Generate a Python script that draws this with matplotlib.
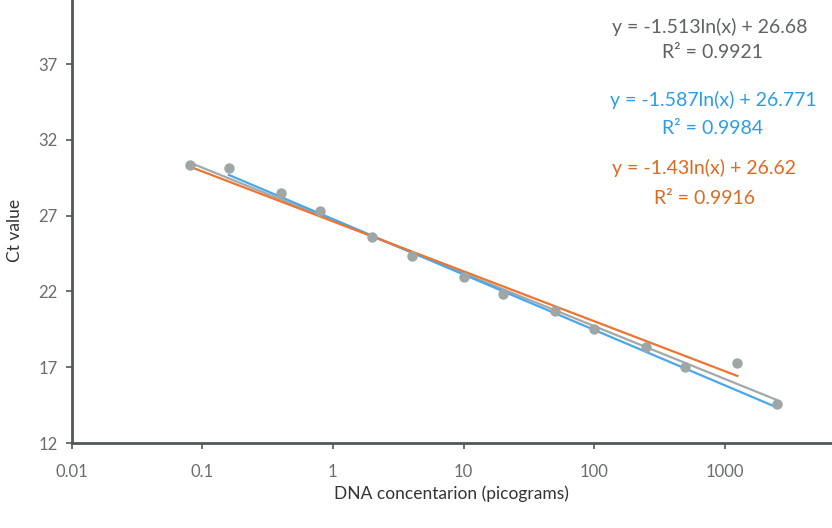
import numpy as np
import matplotlib
matplotlib.use("Agg")
import matplotlib.pyplot as plt
from matplotlib.ticker import FixedLocator, FixedFormatter

plt.rcParams['font.family'] = ['Lato', 'DejaVu Sans']

# DNA dilution series (pg) and measured Ct
dna_pg = [0.08, 0.16, 0.4, 0.8, 2, 4, 10, 20, 50, 100, 250, 500, 1250, 2500]
ct = [30.34, 30.12, 28.51, 27.32, 25.57, 24.34, 22.93, 21.83, 20.73,
      19.52, 18.35, 17.03, 17.26, 14.57]

# log trendlines: slope, intercept, R2, x range, colour
fit_names = ["grey", "blue", "orange"]
fit_slope = [-1.513, -1.587, -1.43]
fit_icpt = [26.68, 26.771, 26.62]
fit_r2 = ["0.9921", "0.9984", "0.9916"]
fit_xmin = [0.08, 0.16, 0.08]
fit_xmax = [2500, 2500, 1250]
fit_eq = ["y = -1.513ln(x) + 26.68", "y = -1.587ln(x) + 26.771", "y = -1.43ln(x) + 26.62"]

x_ticks = [0.01, 0.1, 1, 10, 100, 1000]
x_labels = ["0.01", "0.1", "1", "10", "100", "1000"]
y_ticks = [12, 17, 22, 27, 32, 37]

line_col = {"grey": "#a3a8a8", "blue": "#4aa7ea", "orange": "#ec7532"}
text_col = {"grey": "#5f6262", "blue": "#2b9de8", "orange": "#e0691f"}
axis_col = "#505859"
tick_col = "#6a6d6d"

fig = plt.figure(figsize=(8.32, 5.28), dpi=100)
ax = fig.add_axes([71.7 / 832, 1 - 443 / 528, 1 - 71.7 / 832, 443 / 528])
ax.set_xscale("log")
ax.set_xlim(0.01, 10 ** (-2 + (832 - 71.7) / 130.6))
ax.set_ylim(12, 12 + 443 / 15.16)

for name, m, b, lo, hi in zip(fit_names, fit_slope, fit_icpt, fit_xmin, fit_xmax):
    xs = np.geomspace(lo, hi, 50)
    ax.plot(xs, m * np.log(xs) + b, color=line_col[name], lw=1.6, zorder=2)

ax.plot(dna_pg, ct, "o", color="#9ea6a6", ms=7.5, mec="none", zorder=3)

for s in ["top", "right"]:
    ax.spines[s].set_visible(False)
for s in ["left", "bottom"]:
    ax.spines[s].set_color(axis_col)
    ax.spines[s].set_linewidth(2)

ax.xaxis.set_major_locator(FixedLocator(x_ticks))
ax.xaxis.set_major_formatter(FixedFormatter(x_labels))
ax.xaxis.set_minor_locator(FixedLocator([]))
ax.set_yticks(y_ticks)
ax.tick_params(axis="both", direction="out", length=4, width=1.2, color=axis_col,
               labelcolor=tick_col, labelsize=12)
ax.tick_params(axis="x", pad=11)
ax.tick_params(axis="y", pad=6)

ax.set_xlabel("DNA concentarion (picograms)", fontsize=12.5, color="#333333", labelpad=4)
fig.text(15 / 832, 1 - 230 / 528, "Ct value", rotation=90, fontsize=12.5,
         color="#333333", ha="center", va="center")

eq_pos = [(710, 27, 712, 53), (713, 100, 713, 128), (704, 168, 704, 199)]
for name, eq, r2, (ex, ey, rx, ry) in zip(fit_names, fit_eq, fit_r2, eq_pos):
    fig.text(ex / 832, 1 - ey / 528, eq, color=text_col[name], fontsize=14,
             ha="center", va="center")
    fig.text(rx / 832, 1 - ry / 528, "R\u00b2 = " + r2, color=text_col[name],
             fontsize=14, ha="center", va="center")

fig.savefig("out.png", dpi=100, facecolor="white")
